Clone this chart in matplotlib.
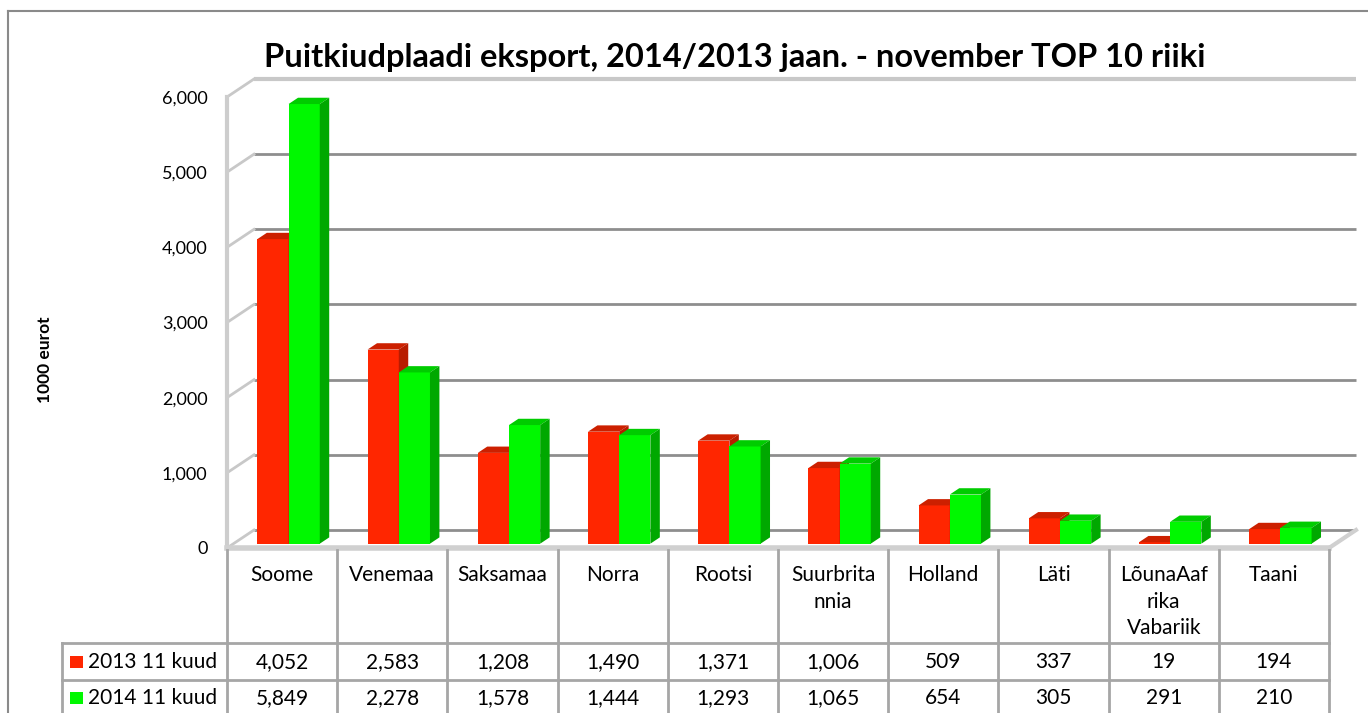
import matplotlib
matplotlib.use("Agg")
import matplotlib.pyplot as plt
from matplotlib.patches import Polygon, Rectangle
from matplotlib.lines import Line2D
import matplotlib.transforms as mtransforms

plt.rcParams['font.family'] = ['Lato', 'DejaVu Sans']

# ---------------- data ----------------
title = "Puitkiudplaadi eksport, 2014/2013 jaan. - november TOP 10 riiki"
y_label = "1000 eurot"
categories = ["Soome", "Venemaa", "Saksamaa", "Norra", "Rootsi", "Suurbrita\nnnia",
              "Holland", "Läti", "LõunaAaf\nrika\nVabariik", "Taani"]
series_names = ["2013 11 kuud", "2014 11 kuud"]
values_2013 = [4052, 2583, 1208, 1490, 1371, 1006, 509, 337, 19, 194]
values_2014 = [5849, 2278, 1578, 1444, 1293, 1065, 654, 305, 291, 210]
y_ticks = [0, 1000, 2000, 3000, 4000, 5000, 6000]

# ---------------- styling ----------------
W, H = 1368, 713
fig = plt.figure(figsize=(W / 100, H / 100), dpi=100)


def fx(px):
    return px / W


def fy(py):
    return 1 - py / H


front = {"2013 11 kuud": "#ff2600", "2014 11 kuud": "#00f800"}
top_c = {"2013 11 kuud": "#cc2000", "2014 11 kuud": "#00cc00"}
side_c = {"2013 11 kuud": "#b81c00", "2014 11 kuud": "#00a800"}
TABLE_FS = 15

ax = fig.add_axes([fx(227), fy(548), fx(1329) - fx(227), fy(97) - fy(548)])
ax.set_xlim(-0.5, len(categories) - 0.5)
ax.set_ylim(0, 6000)
ax.patch.set_visible(False)
for s in ax.spines.values():
    s.set_visible(False)
ax.set_xticks([])
ax.set_yticks(y_ticks)
ax.set_yticklabels([f"{v:,}" for v in y_ticks])
ax.tick_params(axis='y', length=0, pad=14, labelsize=13)

# depth of the 3D box (in data units)
DX, DY = 0.245, 239.5
d0, d1 = 0.24, 0.59
dd = d1 - d0
bw = 0.283
x0, x1 = -0.5, len(categories) - 0.5

# walls
for v in y_ticks[:-1]:
    ax.plot([x0 + DX, x1 + DX], [v + DY, v + DY], color="#8e8e8e", lw=2,
            clip_on=False, zorder=1, solid_capstyle='butt')
ax.plot([x0 + DX, x1 + DX], [y_ticks[-1] + DY] * 2, color="#c8c8c8", lw=3,
        clip_on=False, zorder=1, solid_capstyle='butt')
for v in y_ticks:
    ax.plot([x0, x0 + DX], [v, v + DY], color="#c8c8c8", lw=2, clip_on=False, zorder=1)
ax.plot([x0, x0], [0, y_ticks[-1]], color="#cdcdcd", lw=3, clip_on=False, zorder=1)
# floor
ax.plot([x0, x1], [0, 0], color="#d0d0d0", lw=4, clip_on=False, zorder=1)
ax.plot([x1, x1 + DX], [0, DY], color="#d0d0d0", lw=3, clip_on=False, zorder=1)

# bars
shift = d0 * DX
base = d0 * DY
xs = list(range(len(categories)))
for k, (name, vals) in enumerate(zip(series_names, [values_2013, values_2014])):
    lefts = [x - bw + shift + k * bw for x in xs]
    ax.bar([l + bw / 2 for l in lefts], vals, width=bw, bottom=base,
           color=front[name], zorder=3 + k, clip_on=False)
    for l, v in zip(lefts, vals):
        r = l + bw
        t = v + base
        ax.add_patch(Polygon([(l, t), (r, t), (r + dd * DX, t + dd * DY), (l + dd * DX, t + dd * DY)],
                             closed=True, facecolor=top_c[name], edgecolor='none',
                             zorder=3 + k, clip_on=False))
        ax.add_patch(Polygon([(r, base), (r, t), (r + dd * DX, t + dd * DY), (r + dd * DX, base + dd * DY)],
                             closed=True, facecolor=side_c[name], edgecolor='none',
                             zorder=3 + k, clip_on=False))

# ---------------- data table ----------------
tr = mtransforms.blended_transform_factory(ax.transData, fig.transFigure)
grid_c = "#a6a6a6"
for i in range(len(categories) + 1):
    ax.add_line(Line2D([i - 0.5, i - 0.5], [fy(550), 0], transform=tr, color=grid_c,
                       lw=2, clip_on=False))
for py in (643, 680):
    fig.add_artist(Line2D([fx(62), fx(1329)], [fy(py), fy(py)], color=grid_c, lw=2))
fig.add_artist(Line2D([fx(62), fx(62)], [fy(643), 0], color=grid_c, lw=2))

for i, c in enumerate(categories):
    ax.text(i, fy(565), c, transform=tr, ha='center', va='top', fontsize=TABLE_FS,
            linespacing=1.42, clip_on=False)
row_y = [662, 698]
for name, vals, py in zip(series_names, [values_2013, values_2014], row_y):
    for i, v in enumerate(vals):
        ax.text(i, fy(py), f"{v:,}", transform=tr, ha='center', va='center',
                fontsize=TABLE_FS, clip_on=False)
    fig.add_artist(Rectangle((fx(70), fy(py + 6)), fx(13), 12 / H, facecolor=front[name],
                             edgecolor='none', transform=fig.transFigure))
    fig.text(fx(88), fy(py), name, ha='left', va='center', fontsize=TABLE_FS)

# ---------------- titles & frame ----------------
fig.text(fx(735), fy(58), title, ha='center', va='center', fontsize=23.5, fontweight='bold')
fig.text(fx(45), fy(360), y_label, ha='center', va='center', rotation=90,
         fontsize=12.5, fontweight='bold')
fig.add_artist(Line2D([fx(8), fx(8)], [fy(11), 0], color="#8a8a8a", lw=1.5))
fig.add_artist(Line2D([fx(8), 1], [fy(11), fy(11)], color="#8a8a8a", lw=1.5))

fig.savefig("out.png", dpi=100)
